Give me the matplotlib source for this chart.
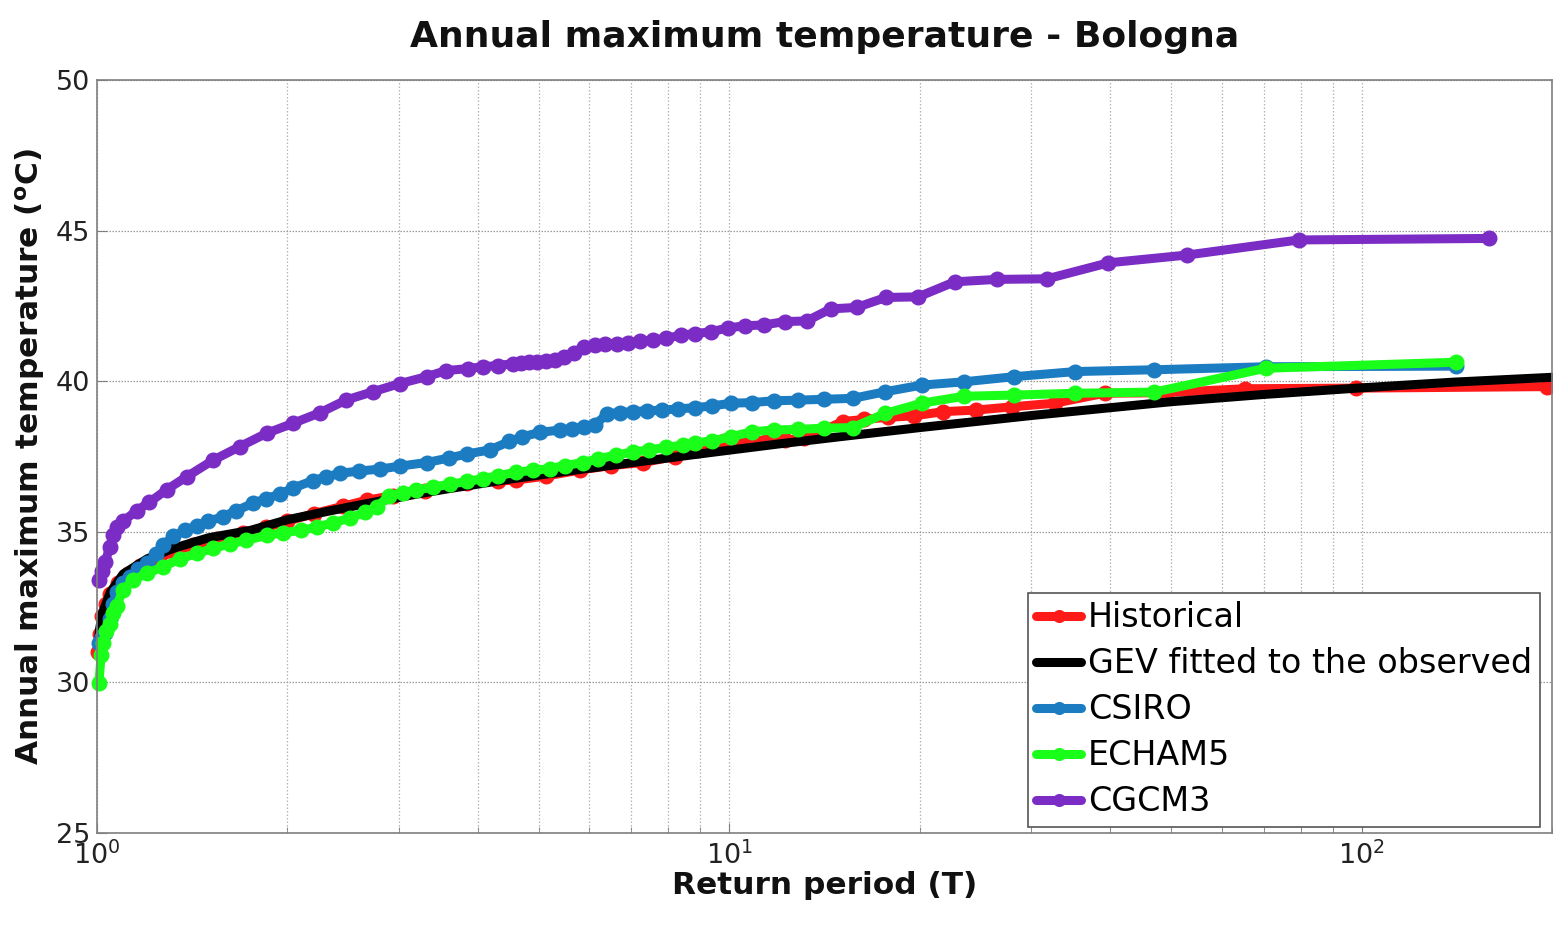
import matplotlib
matplotlib.use("Agg")
import matplotlib.pyplot as plt
from matplotlib.ticker import LogLocator, NullFormatter

# Empirical return periods (years) and annual maximum temperatures (deg C)
hist_T = [1.005, 1.01, 1.02, 1.035, 1.05, 1.08, 1.12, 1.17, 1.25, 1.32, 1.42, 1.55,
          1.7, 1.85, 2.0, 2.2, 2.45, 2.67, 2.94, 3.3, 3.84, 4.3, 4.6, 5.13, 5.8, 6.5,
          7.3, 8.2, 8.9, 9.4, 9.8, 10.3, 10.9, 11.5, 12.25, 13.1, 14.0, 15.1, 16.3,
          17.8, 19.6, 21.8, 24.5, 28.0, 32.7, 39.2, 49.0, 65.3, 98.0, 196.0]
hist_temp = [31.0, 31.6, 32.2, 32.6, 32.95, 33.3, 33.6, 33.85, 34.1, 34.35, 34.55, 34.75,
             34.95, 35.15, 35.35, 35.6, 35.85, 36.05, 36.2, 36.35, 36.62, 36.68, 36.72,
             36.85, 37.05, 37.2, 37.3, 37.5, 37.7, 37.95, 38.0, 38.0, 38.02, 38.05, 38.05,
             38.1, 38.35, 38.66, 38.73, 38.8, 38.85, 38.99, 39.04, 39.15, 39.27, 39.6,
             39.62, 39.75, 39.77, 39.82]

gev_T = [1.005, 1.01, 1.02, 1.05, 1.1, 1.2, 1.32, 1.5, 1.75, 2.0, 2.22, 2.5, 2.8, 3.2,
         3.57, 4.5, 5.8, 7.4, 9.4, 12, 15, 20, 30, 40, 50, 70, 100, 140, 200]
gev_temp = [31.3, 31.8, 32.3, 33.0, 33.6, 34.1, 34.45, 34.8, 35.05, 35.4, 35.6, 35.82,
            36.02, 36.25, 36.42, 36.75, 37.07, 37.36, 37.64, 37.92, 38.16, 38.46, 38.86,
            39.12, 39.32, 39.56, 39.78, 39.97, 40.13]

csiro_T = [1.007, 1.02, 1.03, 1.048, 1.06, 1.074, 1.1, 1.128, 1.16, 1.198, 1.24, 1.273,
           1.32, 1.38, 1.437, 1.5, 1.58, 1.66, 1.765, 1.85, 1.945, 2.04, 2.195, 2.3,
           2.42, 2.6, 2.8, 3.01, 3.32, 3.6, 3.84, 4.18, 4.49, 4.7, 5.01, 5.4, 5.64, 5.88,
           6.13, 6.41, 6.71, 7.05, 7.42, 7.83, 8.29, 8.81, 9.4, 10.07, 10.85, 11.75,
           12.82, 14.1, 15.67, 17.63, 20.14, 23.5, 28.2, 35.25, 47, 70.5, 141]
csiro_temp = [31.3, 31.5, 31.65, 32.1, 32.6, 33.0, 33.3, 33.5, 33.75, 33.95, 34.25, 34.55,
              34.85, 35.05, 35.2, 35.35, 35.5, 35.7, 35.95, 36.1, 36.25, 36.45, 36.7,
              36.82, 36.94, 37.02, 37.08, 37.18, 37.3, 37.45, 37.58, 37.72, 38.0, 38.15,
              38.3, 38.38, 38.42, 38.48, 38.55, 38.92, 38.96, 38.99, 39.02, 39.04, 39.08,
              39.12, 39.18, 39.27, 39.29, 39.35, 39.37, 39.4, 39.43, 39.65, 39.87, 39.98,
              40.15, 40.32, 40.38, 40.48, 40.5]

echam_T = [1.007, 1.015, 1.023, 1.035, 1.048, 1.06, 1.074, 1.1, 1.141, 1.198, 1.273,
           1.352, 1.437, 1.527, 1.622, 1.723, 1.854, 1.97, 2.1, 2.224, 2.36, 2.51, 2.65,
           2.77, 2.9, 3.05, 3.2, 3.4, 3.61, 3.84, 4.07, 4.3, 4.6, 4.9, 5.2, 5.5, 5.86,
           6.2, 6.62, 7.05, 7.47, 7.95, 8.43, 8.81, 9.4, 10.07, 10.85, 11.75, 12.82,
           14.1, 15.67, 17.63, 20.14, 23.5, 28.2, 35.25, 47, 70.5, 141]
echam_temp = [29.97, 30.9, 31.3, 31.7, 31.95, 32.3, 32.55, 33.07, 33.4, 33.62, 33.84,
              34.1, 34.28, 34.45, 34.6, 34.72, 34.88, 34.97, 35.05, 35.15, 35.3, 35.45,
              35.65, 35.83, 36.2, 36.3, 36.39, 36.48, 36.58, 36.67, 36.76, 36.86, 36.98,
              37.04, 37.1, 37.2, 37.3, 37.42, 37.55, 37.65, 37.72, 37.8, 37.88, 37.95,
              38.02, 38.16, 38.32, 38.38, 38.4, 38.44, 38.46, 38.93, 39.27, 39.5, 39.54,
              39.6, 39.64, 40.43, 40.63]

cgcm_T = [1.006, 1.018, 1.03, 1.048, 1.06, 1.074, 1.1, 1.155, 1.21, 1.289, 1.386, 1.527,
          1.682, 1.854, 2.04, 2.25, 2.48, 2.73, 3.01, 3.32, 3.56, 3.86, 4.08, 4.3, 4.54,
          4.68, 4.82, 4.97, 5.13, 5.3, 5.48, 5.68, 5.89, 6.12, 6.36, 6.63, 6.91, 7.23,
          7.57, 7.95, 8.37, 8.83, 9.35, 9.94, 10.6, 11.36, 12.23, 13.25, 14.45, 15.9,
          17.67, 19.88, 22.71, 26.5, 31.8, 39.75, 53, 79.5, 159]
cgcm_temp = [33.4, 33.7, 34.0, 34.5, 34.9, 35.15, 35.35, 35.7, 35.98, 36.4, 36.83, 37.38,
             37.83, 38.27, 38.6, 38.95, 39.38, 39.65, 39.92, 40.15, 40.35, 40.42, 40.48,
             40.52, 40.58, 40.6, 40.63, 40.65, 40.68, 40.72, 40.82, 40.95, 41.15, 41.2,
             41.22, 41.25, 41.28, 41.32, 41.37, 41.42, 41.53, 41.58, 41.64, 41.77, 41.84,
             41.87, 41.98, 42.0, 42.4, 42.45, 42.78, 42.8, 43.3, 43.38, 43.4, 43.93, 44.19,
             44.69, 44.74]

series = [
    ("Historical", hist_T, hist_temp, "#ff1a1a", "o"),
    ("GEV fitted to the observed", gev_T, gev_temp, "#000000", None),
    ("CSIRO", csiro_T, csiro_temp, "#1c7cc2", "o"),
    ("ECHAM5", echam_T, echam_temp, "#1aff1a", "o"),
    ("CGCM3", cgcm_T, cgcm_temp, "#7a2cc4", "o"),
]

plt.rcParams["font.family"] = ["DejaVu Sans"]

fig = plt.figure(figsize=(15.53, 9.26), dpi=100)
ax = fig.add_axes([97 / 1553, 93 / 926, 1 - 97 / 1553 - 0.0005, (833 - 80) / 926])

for name, xs, ys, color, marker in series:
    ax.plot(xs, ys, color=color, lw=6.5, marker=marker, ms=10.5,
            markeredgecolor=color, markerfacecolor=color,
            label=name, clip_on=False, solid_capstyle="round",
            solid_joinstyle="round")

ax.set_xscale("log")
ax.set_xlim(1, 200)
ax.set_ylim(25, 50)
ax.set_yticks([25, 30, 35, 40, 45, 50])
ax.xaxis.set_major_locator(LogLocator(base=10, numticks=10))
ax.xaxis.set_minor_locator(LogLocator(base=10, subs=range(2, 10), numticks=20))
ax.xaxis.set_minor_formatter(NullFormatter())

ax.grid(True, which="major", axis="y", color="#9a9a9a", ls=(0, (1.2, 1.2)), lw=0.9)
ax.grid(True, which="both", axis="x", color="#b5b5b5", ls=(0, (1.2, 1.6)), lw=0.9)
ax.set_axisbelow(True)

for sp in ax.spines.values():
    sp.set_color("#7f7f7f")
    sp.set_linewidth(1.2)

ax.tick_params(axis="both", which="both", direction="in", colors="#7f7f7f",
               labelcolor="#222222", labelsize=19.5)
ax.tick_params(axis="both", which="major", length=7)
ax.tick_params(axis="x", which="minor", length=4)
ax.tick_params(axis="y", pad=5)
ax.tick_params(axis="x", pad=6)

ax.set_title("Annual maximum temperature - Bologna", fontsize=26, fontweight="bold",
             pad=24, color="#111111")
ax.set_xlabel("Return period (T)", fontsize=22.5, fontweight="bold", labelpad=1,
              color="#111111")
ax.set_ylabel(r"Annual maximum temperature ($^{\mathbf{o}}$C)", fontsize=22.5,
              fontweight="bold", labelpad=6, color="#111111")

leg = ax.legend(loc="upper left", bbox_to_anchor=(1028 / 1553, 1 - 593 / 926),
                bbox_transform=fig.transFigure, borderaxespad=0, fontsize=24,
                handlelength=1.35, handletextpad=0.2, labelspacing=0.39,
                borderpad=0.25, fancybox=False, framealpha=1, markerscale=0.8)
leg.get_frame().set_edgecolor("#555555")
leg.get_frame().set_linewidth(1.2)

fig.savefig("out.png", dpi=100)
